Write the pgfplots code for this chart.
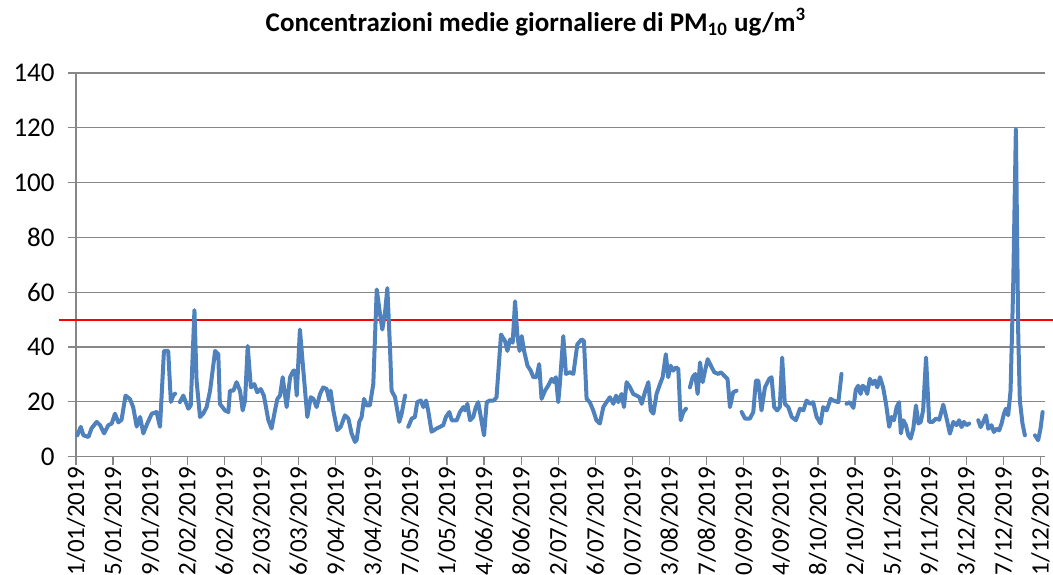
\documentclass[border=0pt]{standalone}
\usepackage{pgfplots}
\pgfplotsset{compat=1.18}
\usepackage{pgfplotstable}
\usepackage{fontspec}
\setmainfont{Carlito}
\definecolor{xlblue}{RGB}{79,129,189}
\definecolor{xlred}{RGB}{255,0,0}
\definecolor{gridgray}{RGB}{135,135,135}

\pgfplotstableread{
x y
0.5 7.8
1.8 10.9
2.8 7.8
4.7 7.2
5.9 10.4
7.8 12.7
9.1 11.5
10.6 8.5
12.2 11.5
13.5 12.1
14.7 15.7
16 12.5
17.2 13.5
18.7 22.3
20.4 21
21.6 18
22.9 11
24.2 14.5
25.4 8.5
26.9 12.1
28.6 15.7
30.4 16.3
31.7 10.9
33.2 38.6
34.8 38.6
35.8 20
36.7 22.3
37.4 23
38.3 nan
39.2 19.9
40.5 22.3
42.4 17.5
43.3 18.7
44.7 53.5
45.5 27.8
46.8 14.5
48 15.7
49.3 18.1
50.6 24.1
52.5 38.6
53.7 37.4
54.3 19.3
56.2 16.9
57.5 16.3
58.1 24.1
59.4 24.1
60.6 27.2
61.9 24.1
62.9 16.9
63.8 20.5
64.8 40.4
66 25.3
67.3 26.5
68.4 23.5
69.7 24.7
70.9 22.3
72.6 13.3
73.8 10.3
75.1 16.9
76 21.1
77 22.3
78 29
79.5 18.1
80.8 29
82 31.4
82.6 31.4
83.3 22.3
84.5 46.4
85.8 31.4
87.3 14.5
88.6 21.7
89.6 21.1
90.8 18.1
92.1 22.9
93.3 25.3
94.6 24.7
95.6 20.5
96.1 24.1
97.1 16.9
98.6 9.7
99.9 10.9
101.5 15.1
102.8 13.9
104 8.5
105.3 5.4
105.9 6
106.9 12.7
107.8 14.5
108.7 21.1
109.7 18.7
110.9 18.7
112.2 26.5
113.5 61
114.7 52.3
115.6 46.4
116.6 52.3
117.5 61.5
118.5 39.8
119.1 24.1
120.4 21.7
122 12.7
122.9 15.7
124.2 22.3
124.8 nan
125.4 10.9
126.7 13.9
127.9 14.5
128.8 19.9
130.1 20.5
131.1 18.1
132.1 20.5
132.9 16.9
134.2 9.1
136.1 10.3
137.4 10.9
138.6 11.5
139.6 14.5
140.9 16.3
141.8 13.3
143.7 13.3
144.9 16.3
146.2 18.1
146.8 16.9
147.7 19.3
148.7 13.3
149.9 14.5
150.9 18.1
151.8 19.9
153.1 12.7
154 7.8
155 19.9
156.2 20.5
157.7 20.5
158.7 21.7
160.4 44.6
161.9 42.2
162.8 38.6
163.8 42.8
164.8 41.6
165.7 56.7
166.6 44
167.4 38.6
168.2 44
169.1 38.6
170.4 33.2
171.6 31.4
172.6 29
173.8 29
174.8 33.8
175.7 21.1
177 24.1
178.2 25.9
179.5 28.4
180.4 27.2
181.1 29
182 19.9
182.6 26.5
183.9 44
184.9 30.2
186.4 30.8
187.7 30.2
189.2 41
190.8 42.8
191.7 42.2
192.7 21.1
193.9 19.9
195.2 16.9
196.4 13.3
197.7 12.1
199 18.1
200.2 19.9
201.5 21.7
202.8 19.3
203.8 22.3
204.7 19.9
205.9 22.9
206.8 18.1
207.8 27.2
209.1 25.3
210.3 22.9
211.6 22.3
212.6 21.7
213.5 19.3
214.7 23.5
216 27.2
216.9 16.9
217.9 15.7
219.1 22.9
220.4 26.5
221.4 29
222.6 37.4
223.5 29
224.4 33.2
225.4 31.4
226.4 32.6
227.3 32
228.2 13.3
229.2 16.3
230.2 17.5
231 nan
231.7 25.3
232.7 29
233.7 30.2
234.6 22.9
235.5 34.4
236.5 27.2
237.4 31.4
238.4 35.6
239.6 33.2
240.9 30.8
242.4 30.2
243.4 30.8
244.6 29.6
245.9 28.3
246.8 18.1
248 23.5
249.3 24.1
250.2 nan
251.2 16.3
252.5 13.9
254.3 13.9
255.6 16.3
256.6 27.8
257.5 27.8
258.7 16.9
260 25.3
261.6 28.4
262.5 29
263.5 18.1
264.6 16.9
265.6 18.1
266.5 36.2
267.5 19.3
268.8 18.1
270.1 14.5
271.7 13.3
273.2 17.5
274.5 16.9
275.7 20.5
277 19.3
278.2 19.9
279.5 14.5
281 12.1
282 18.1
283.3 16.9
284.8 21.1
285.8 20.5
287.7 19.9
288.9 30.2
289.8 nan
290.8 19.3
292 19.9
293.4 17.8
294.3 24.5
295.2 25.9
296.1 22.9
296.9 25.9
297.7 25.3
298.6 22.9
299.6 28.4
300.6 26.5
301.5 27.8
302.4 25.3
303.4 29
304.6 25.3
305.7 19.3
306.9 10.9
307.8 14.5
308.7 13.3
309.7 18.1
310.6 19.9
311.3 8.5
312.2 13.3
313.2 11.5
314.1 7.8
315 6.6
316 10.3
317 18.7
317.9 12.1
318.8 12.7
319.7 16.9
320.8 36.2
322 12.7
323.3 12.7
324.5 13.9
325.8 13.5
327.3 19
328.7 13.3
329.8 8.4
331.1 12.7
332.3 11.5
333.3 13.3
334.2 10.8
335.1 12.7
336.1 11.5
337.1 12.1
338.5 nan
340.5 13.3
341.4 10.8
342.4 12.7
343.4 15.1
344.3 10.2
345.5 11.5
346.4 9
347.4 10.2
348.4 9.6
349.3 12.1
350.2 15.7
350.9 17.5
351.8 15.1
352.7 24.1
353.7 62.7
354.7 119.6
355.6 44.6
356.2 20.5
357.2 12.1
358.1 7.8
360 nan
361.9 7.8
363.1 6
364 10.2
364.8 16.3
}\pmdata

\begin{document}
\begin{tikzpicture}
\begin{axis}[
  scale only axis,
  width=484.5pt, height=191.85pt,
  xmin=0, xmax=365.7,
  ymin=0, ymax=140,
  ytick={0,20,...,140},
  xtick={0,14,...,364},
  xticklabels={01/01/2019,15/01/2019,29/01/2019,12/02/2019,26/02/2019,12/03/2019,26/03/2019,09/04/2019,23/04/2019,07/05/2019,21/05/2019,04/06/2019,18/06/2019,02/07/2019,16/07/2019,30/07/2019,13/08/2019,27/08/2019,10/09/2019,24/09/2019,08/10/2019,22/10/2019,05/11/2019,19/11/2019,03/12/2019,17/12/2019,31/12/2019},
  axis x line*=bottom,
  axis y line*=left,
  axis line style={gridgray, line width=0.6pt, -},
  tick align=outside,
  major tick length=4pt,
  tick style={gridgray, line width=0.6pt},
  ymajorgrids,
  grid style={gridgray, line width=0.6pt},
  ticklabel style={font=\fontsize{13.5}{16}\selectfont, text=black},
  xticklabel style={font=\fontsize{12.5}{15}\selectfont, rotate=90, anchor=east, inner sep=1pt},
  yticklabel style={inner sep=2pt, xshift=-4.5pt},
  /pgf/number format/assume math mode=true,
  unbounded coords=jump,
  clip=false,
  title={Concentrazioni medie giornaliere di PM\textsubscript{10} ug/m\textsuperscript{3}},
  title style={font=\fontsize{13.5}{16}\selectfont\bfseries, at={(axis description cs:0.4747,1)}, anchor=center, yshift=19.5pt},
]
\addplot[color=xlred, line width=1pt, mark=none, forget plot] coordinates {(-6.5,50) (371,50)};
\addplot[color=xlblue, line width=2pt, line join=round, line cap=round, mark=none] table[x=x, y=y] {\pmdata};
\end{axis}
\pgfresetboundingbox
\path[use as bounding box] (-38pt,-58.65pt) rectangle (488.5pt,228.35pt);
\end{tikzpicture}
\end{document}
